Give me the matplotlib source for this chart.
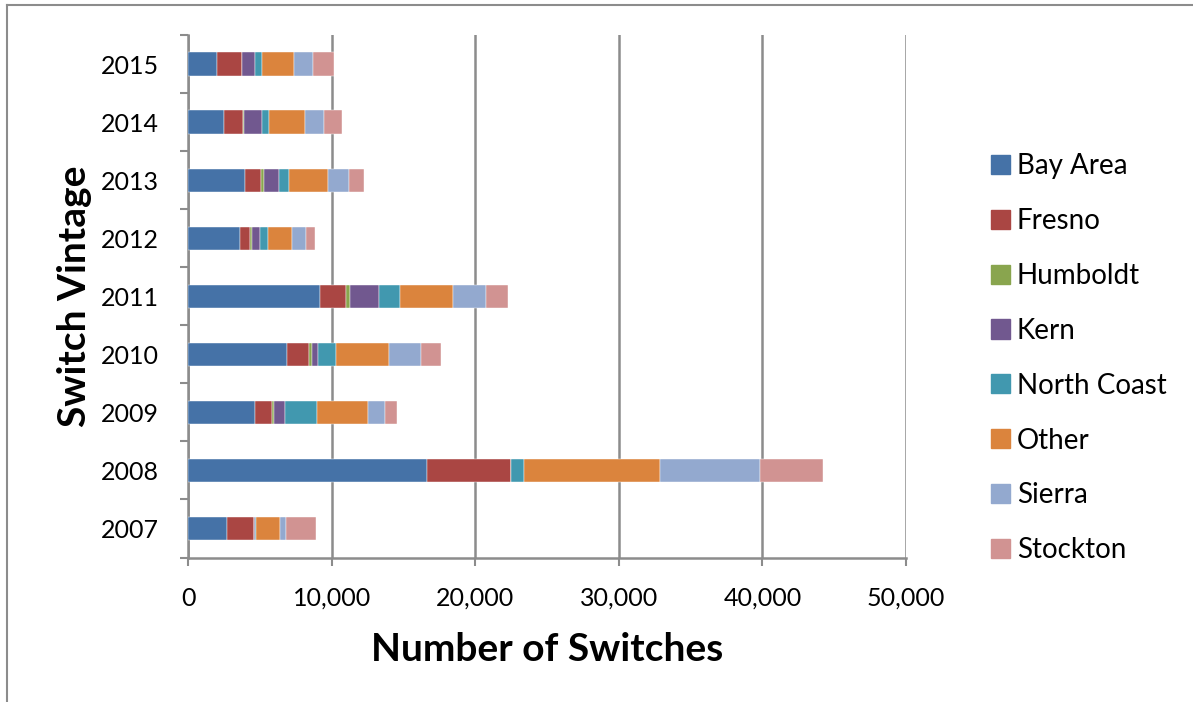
import matplotlib
matplotlib.use("Agg")
import matplotlib.pyplot as plt
from matplotlib.lines import Line2D
import numpy as np

years = ["2007", "2008", "2009", "2010", "2011", "2012", "2013", "2014", "2015"]
regions = ["Bay Area", "Fresno", "Humboldt", "Kern", "North Coast", "Other", "Sierra", "Stockton"]

bay_area    = [2740, 16640, 4670, 6920, 9220, 3650, 4000, 2530, 2040]
fresno      = [1880, 5880, 1180, 1510, 1790, 690, 1090, 1330, 1700]
humboldt    = [0, 0, 120, 190, 300, 100, 180, 70, 50]
kern        = [30, 0, 790, 460, 1960, 580, 1070, 1250, 880]
north_coast = [80, 860, 2230, 1260, 1460, 580, 720, 490, 460]
other       = [1680, 9520, 3510, 3660, 3740, 1650, 2700, 2510, 2280]
sierra      = [380, 6940, 1250, 2210, 2250, 1000, 1440, 1320, 1320]
stockton    = [2150, 4360, 810, 1420, 1560, 580, 1090, 1250, 1470]

series = [bay_area, fresno, humboldt, kern, north_coast, other, sierra, stockton]
colors = ["#4572A7", "#AA4643", "#89A54E", "#71588F", "#4198AF", "#DB843D", "#93A9CF", "#D19392"]

x_ticks = [0, 10000, 20000, 30000, 40000, 50000]

plt.rcParams['font.family'] = ['Lato', 'DejaVu Sans']

W, H = 1193, 702
fig = plt.figure(figsize=(W / 100, H / 100), dpi=100)
ax = fig.add_axes([188 / W, 1 - 557.5 / H, (906 - 188) / W, (557.5 - 35) / H])

y = np.arange(len(years))
left = np.zeros(len(years))
handles = []
for name, vals, c in zip(regions, series, colors):
    v = np.array(vals, dtype=float)
    ax.barh(y, v, left=left, height=0.4, color=c, edgecolor='white', linewidth=0.3, label=name, zorder=3)
    left += v
    handles.append(plt.Rectangle((0, 0), 1, 1, color=c))

ax.set_xlim(0, 50000)
ax.set_ylim(-0.5, len(years) - 0.5)
ax.set_xticks(x_ticks)
ax.set_xticklabels([f"{t:,}" for t in x_ticks])
ax.set_yticks(y)
ax.set_yticklabels(years)
ax.set_yticks(np.arange(-0.5, len(years)), minor=True)
ax.tick_params(axis='y', which='major', length=0, pad=21, labelsize=18)
ax.tick_params(axis='y', which='minor', length=6, width=1.5, color='#8c8c8c', direction='out')
ax.tick_params(axis='x', which='major', length=6, width=1.5, color='#8c8c8c', direction='out', pad=15, labelsize=18)

ax.grid(axis='x', color='#8c8c8c', linewidth=1.8, zorder=0)
ax.set_axisbelow(True)
for s in ['top', 'right']:
    ax.spines[s].set_visible(False)
for s in ['left', 'bottom']:
    ax.spines[s].set_color('#8c8c8c')
    ax.spines[s].set_linewidth(1.8)

ax.set_xlabel("Number of Switches", fontsize=28, fontweight='bold', labelpad=16)
ax.set_ylabel("Switch Vintage", fontsize=28, fontweight='bold', labelpad=6)

leg = fig.legend(handles, regions, loc='upper left', bbox_to_anchor=(980 / W, 1 - 142 / H),
                 frameon=False, fontsize=20, handlelength=0.68, handleheight=0.68,
                 handletextpad=0.25, labelspacing=1.04, borderaxespad=0)

# outer frame (top and left)
fig.add_artist(Line2D([7 / W, 1.0], [1 - 5 / H, 1 - 5 / H], transform=fig.transFigure, color='#8c8c8c', linewidth=1.5))
fig.add_artist(Line2D([7 / W, 7 / W], [0, 1 - 5 / H], transform=fig.transFigure, color='#8c8c8c', linewidth=1.5))

fig.savefig("out.png", dpi=100)
